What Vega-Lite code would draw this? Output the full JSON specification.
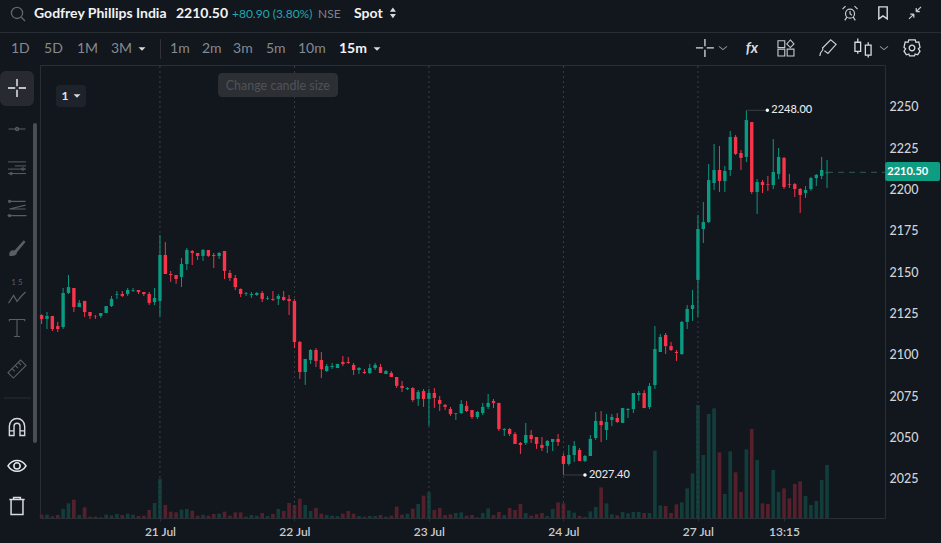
{"$schema":"https://vega.github.io/schema/vega-lite/v6.json","autosize":"none","width":845,"height":453,"padding":{"left":40,"top":65,"right":56,"bottom":25},"background":"#12161d","config":{"view":{"stroke":"#2a2e35"},"font":"Lato"},
"datasets":{"candles":[
{"i":0,"o":2124.2,"h":2124.6,"l":2118.7,"c":2121.8,"v":10,"s":"d"},
{"i":1,"o":2121.8,"h":2126.0,"l":2115.7,"c":2123.6,"v":10,"s":"u"},
{"i":2,"o":2123.6,"h":2123.6,"l":2114.5,"c":2115.7,"v":5,"s":"d"},
{"i":3,"o":2117.5,"h":2120.0,"l":2113.9,"c":2115.7,"v":9,"s":"d"},
{"i":4,"o":2116.9,"h":2140.5,"l":2115.7,"c":2137.5,"v":27,"s":"u"},
{"i":5,"o":2137.5,"h":2148.4,"l":2136.9,"c":2141.1,"v":44,"s":"u"},
{"i":6,"o":2140.5,"h":2140.5,"l":2126.0,"c":2129.0,"v":55,"s":"d"},
{"i":7,"o":2129.0,"h":2133.3,"l":2129.0,"c":2131.5,"v":9,"s":"u"},
{"i":8,"o":2132.7,"h":2132.7,"l":2123.0,"c":2126.0,"v":32,"s":"d"},
{"i":9,"o":2126.0,"h":2126.0,"l":2121.8,"c":2123.6,"v":4,"s":"d"},
{"i":10,"o":2123.2,"h":2124.2,"l":2121.8,"c":2123.0,"v":4,"s":"d"},
{"i":11,"o":2123.6,"h":2125.4,"l":2122.4,"c":2125.4,"v":2,"s":"u"},
{"i":12,"o":2125.4,"h":2129.6,"l":2125.4,"c":2129.6,"v":10,"s":"u"},
{"i":13,"o":2129.6,"h":2135.7,"l":2129.0,"c":2133.9,"v":8,"s":"u"},
{"i":14,"o":2136.5,"h":2138.7,"l":2133.9,"c":2136.9,"v":12,"s":"u"},
{"i":15,"o":2136.9,"h":2138.7,"l":2135.1,"c":2135.7,"v":9,"s":"d"},
{"i":16,"o":2136.9,"h":2140.5,"l":2135.7,"c":2139.3,"v":13,"s":"u"},
{"i":17,"o":2138.9,"h":2140.5,"l":2138.1,"c":2139.3,"v":10,"s":"u"},
{"i":18,"o":2139.3,"h":2139.3,"l":2136.9,"c":2138.1,"v":6,"s":"d"},
{"i":19,"o":2138.1,"h":2138.1,"l":2135.7,"c":2136.9,"v":7,"s":"d"},
{"i":20,"o":2136.9,"h":2138.1,"l":2130.2,"c":2131.5,"v":24,"s":"d"},
{"i":21,"o":2132.0,"h":2140.5,"l":2130.2,"c":2134.5,"v":45,"s":"u"},
{"i":22,"o":2132.7,"h":2172.6,"l":2123.2,"c":2160.5,"v":118,"s":"u"},
{"i":23,"o":2160.5,"h":2168.3,"l":2149.0,"c":2149.0,"v":39,"s":"d"},
{"i":24,"o":2149.0,"h":2150.8,"l":2144.2,"c":2148.4,"v":19,"s":"d"},
{"i":25,"o":2148.4,"h":2148.4,"l":2143.0,"c":2146.0,"v":17,"s":"d"},
{"i":26,"o":2147.2,"h":2158.7,"l":2141.1,"c":2155.0,"v":25,"s":"u"},
{"i":27,"o":2155.0,"h":2164.7,"l":2151.4,"c":2163.5,"v":27,"s":"u"},
{"i":28,"o":2162.9,"h":2163.5,"l":2154.4,"c":2161.7,"v":22,"s":"d"},
{"i":29,"o":2161.7,"h":2161.7,"l":2157.5,"c":2159.9,"v":7,"s":"d"},
{"i":30,"o":2159.9,"h":2164.1,"l":2156.9,"c":2163.5,"v":10,"s":"u"},
{"i":31,"o":2163.5,"h":2163.5,"l":2159.3,"c":2159.9,"v":7,"s":"d"},
{"i":32,"o":2160.5,"h":2161.7,"l":2152.6,"c":2159.9,"v":12,"s":"d"},
{"i":33,"o":2159.9,"h":2162.3,"l":2158.1,"c":2161.7,"v":13,"s":"u"},
{"i":34,"o":2162.9,"h":2162.9,"l":2146.0,"c":2150.8,"v":19,"s":"d"},
{"i":35,"o":2149.6,"h":2151.4,"l":2144.8,"c":2146.6,"v":7,"s":"d"},
{"i":36,"o":2146.6,"h":2148.4,"l":2139.3,"c":2141.1,"v":17,"s":"d"},
{"i":37,"o":2139.9,"h":2140.3,"l":2135.1,"c":2136.9,"v":17,"s":"d"},
{"i":38,"o":2136.9,"h":2138.1,"l":2135.7,"c":2137.3,"v":4,"s":"u"},
{"i":39,"o":2136.3,"h":2138.1,"l":2134.5,"c":2136.9,"v":9,"s":"u"},
{"i":40,"o":2136.3,"h":2138.1,"l":2135.7,"c":2137.5,"v":7,"s":"u"},
{"i":41,"o":2137.5,"h":2138.7,"l":2132.0,"c":2133.9,"v":15,"s":"d"},
{"i":42,"o":2134.1,"h":2135.7,"l":2133.3,"c":2134.5,"v":6,"s":"u"},
{"i":43,"o":2133.9,"h":2138.7,"l":2132.7,"c":2133.3,"v":12,"s":"d"},
{"i":44,"o":2133.9,"h":2136.9,"l":2130.2,"c":2135.7,"v":27,"s":"u"},
{"i":45,"o":2135.1,"h":2138.7,"l":2132.7,"c":2133.3,"v":21,"s":"d"},
{"i":46,"o":2133.9,"h":2136.3,"l":2124.2,"c":2132.7,"v":45,"s":"d"},
{"i":47,"o":2132.7,"h":2133.9,"l":2104.2,"c":2107.9,"v":39,"s":"d"},
{"i":48,"o":2107.9,"h":2108.4,"l":2085.5,"c":2089.7,"v":58,"s":"d"},
{"i":49,"o":2089.7,"h":2097.6,"l":2081.9,"c":2097.6,"v":39,"s":"u"},
{"i":50,"o":2097.0,"h":2103.6,"l":2094.6,"c":2103.0,"v":21,"s":"u"},
{"i":51,"o":2103.0,"h":2104.2,"l":2092.7,"c":2096.4,"v":30,"s":"d"},
{"i":52,"o":2097.0,"h":2101.8,"l":2086.1,"c":2091.5,"v":13,"s":"d"},
{"i":53,"o":2090.3,"h":2094.6,"l":2089.7,"c":2093.3,"v":9,"s":"u"},
{"i":54,"o":2092.7,"h":2095.2,"l":2091.5,"c":2093.3,"v":7,"s":"u"},
{"i":55,"o":2092.1,"h":2094.6,"l":2092.1,"c":2094.6,"v":6,"s":"u"},
{"i":56,"o":2095.8,"h":2099.4,"l":2093.3,"c":2094.6,"v":13,"s":"d"},
{"i":57,"o":2095.8,"h":2098.8,"l":2094.6,"c":2095.2,"v":21,"s":"d"},
{"i":58,"o":2094.0,"h":2095.2,"l":2087.9,"c":2090.9,"v":13,"s":"d"},
{"i":59,"o":2090.9,"h":2092.7,"l":2088.5,"c":2092.1,"v":6,"s":"u"},
{"i":60,"o":2089.7,"h":2091.5,"l":2088.5,"c":2089.1,"v":4,"s":"d"},
{"i":61,"o":2089.1,"h":2094.6,"l":2088.5,"c":2092.1,"v":6,"s":"u"},
{"i":62,"o":2092.1,"h":2095.2,"l":2090.9,"c":2094.0,"v":6,"s":"u"},
{"i":63,"o":2092.7,"h":2094.6,"l":2089.1,"c":2089.1,"v":9,"s":"d"},
{"i":64,"o":2088.5,"h":2090.9,"l":2088.5,"c":2090.3,"v":4,"s":"u"},
{"i":65,"o":2089.1,"h":2090.3,"l":2086.7,"c":2086.7,"v":7,"s":"d"},
{"i":66,"o":2086.7,"h":2086.7,"l":2080.0,"c":2081.3,"v":34,"s":"d"},
{"i":67,"o":2081.3,"h":2084.3,"l":2077.6,"c":2080.0,"v":10,"s":"d"},
{"i":68,"o":2079.4,"h":2080.6,"l":2078.8,"c":2080.0,"v":13,"s":"u"},
{"i":69,"o":2080.0,"h":2080.6,"l":2071.6,"c":2072.8,"v":28,"s":"d"},
{"i":70,"o":2073.4,"h":2078.8,"l":2069.2,"c":2077.6,"v":42,"s":"u"},
{"i":71,"o":2078.2,"h":2079.4,"l":2068.6,"c":2073.4,"v":67,"s":"d"},
{"i":72,"o":2073.4,"h":2079.4,"l":2057.1,"c":2077.0,"v":77,"s":"u"},
{"i":73,"o":2077.0,"h":2080.0,"l":2068.0,"c":2074.0,"v":24,"s":"d"},
{"i":74,"o":2072.8,"h":2075.2,"l":2066.1,"c":2070.4,"v":30,"s":"d"},
{"i":75,"o":2069.8,"h":2070.4,"l":2066.7,"c":2068.6,"v":9,"s":"d"},
{"i":76,"o":2067.3,"h":2068.6,"l":2063.1,"c":2064.3,"v":11,"s":"d"},
{"i":77,"o":2064.5,"h":2064.9,"l":2060.7,"c":2064.9,"v":15,"s":"u"},
{"i":78,"o":2064.9,"h":2072.8,"l":2064.3,"c":2070.4,"v":17,"s":"u"},
{"i":79,"o":2069.2,"h":2072.2,"l":2065.5,"c":2066.1,"v":7,"s":"d"},
{"i":80,"o":2066.7,"h":2066.7,"l":2061.3,"c":2062.5,"v":9,"s":"d"},
{"i":81,"o":2062.5,"h":2066.1,"l":2061.3,"c":2065.5,"v":2,"s":"u"},
{"i":82,"o":2064.9,"h":2071.0,"l":2063.7,"c":2068.6,"v":15,"s":"u"},
{"i":83,"o":2068.6,"h":2076.4,"l":2067.3,"c":2071.0,"v":29,"s":"u"},
{"i":84,"o":2072.2,"h":2073.4,"l":2067.9,"c":2071.0,"v":9,"s":"d"},
{"i":85,"o":2071.0,"h":2071.0,"l":2054.0,"c":2055.2,"v":18,"s":"d"},
{"i":86,"o":2054.6,"h":2055.8,"l":2051.0,"c":2055.2,"v":9,"s":"u"},
{"i":87,"o":2055.2,"h":2055.8,"l":2051.0,"c":2052.2,"v":30,"s":"d"},
{"i":88,"o":2052.2,"h":2053.4,"l":2046.2,"c":2046.2,"v":24,"s":"d"},
{"i":89,"o":2046.8,"h":2047.4,"l":2040.1,"c":2045.6,"v":42,"s":"d"},
{"i":90,"o":2046.8,"h":2058.9,"l":2045.6,"c":2051.6,"v":15,"s":"u"},
{"i":91,"o":2051.6,"h":2054.6,"l":2046.8,"c":2049.2,"v":7,"s":"d"},
{"i":92,"o":2050.4,"h":2050.4,"l":2043.2,"c":2046.2,"v":11,"s":"d"},
{"i":93,"o":2045.6,"h":2050.4,"l":2041.9,"c":2043.8,"v":15,"s":"d"},
{"i":94,"o":2045.0,"h":2048.6,"l":2040.7,"c":2048.0,"v":6,"s":"u"},
{"i":95,"o":2047.4,"h":2049.2,"l":2041.9,"c":2049.2,"v":27,"s":"u"},
{"i":96,"o":2049.2,"h":2052.2,"l":2045.0,"c":2047.4,"v":47,"s":"d"},
{"i":97,"o":2038.9,"h":2040.5,"l":2027.4,"c":2034.1,"v":44,"s":"d"},
{"i":98,"o":2034.1,"h":2045.6,"l":2033.1,"c":2039.5,"v":23,"s":"u"},
{"i":99,"o":2039.5,"h":2048.0,"l":2035.3,"c":2045.0,"v":16,"s":"u"},
{"i":100,"o":2042.5,"h":2043.7,"l":2035.9,"c":2035.9,"v":6,"s":"d"},
{"i":101,"o":2035.9,"h":2039.5,"l":2035.3,"c":2038.9,"v":3,"s":"u"},
{"i":102,"o":2038.9,"h":2051.6,"l":2038.9,"c":2049.2,"v":20,"s":"u"},
{"i":103,"o":2049.8,"h":2065.5,"l":2048.6,"c":2060.1,"v":33,"s":"u"},
{"i":104,"o":2060.1,"h":2066.1,"l":2047.4,"c":2057.6,"v":92,"s":"d"},
{"i":105,"o":2054.6,"h":2064.3,"l":2048.6,"c":2059.5,"v":44,"s":"u"},
{"i":106,"o":2060.7,"h":2064.3,"l":2057.0,"c":2062.5,"v":11,"s":"u"},
{"i":107,"o":2061.9,"h":2064.9,"l":2058.9,"c":2059.5,"v":8,"s":"d"},
{"i":108,"o":2058.9,"h":2067.9,"l":2058.9,"c":2067.9,"v":18,"s":"u"},
{"i":109,"o":2066.7,"h":2067.9,"l":2061.9,"c":2067.3,"v":14,"s":"u"},
{"i":110,"o":2067.3,"h":2077.0,"l":2064.9,"c":2077.0,"v":18,"s":"u"},
{"i":111,"o":2075.8,"h":2078.2,"l":2072.2,"c":2077.0,"v":18,"s":"u"},
{"i":112,"o":2077.0,"h":2078.8,"l":2067.9,"c":2067.9,"v":15,"s":"d"},
{"i":113,"o":2068.5,"h":2083.0,"l":2067.3,"c":2081.2,"v":15,"s":"u"},
{"i":114,"o":2081.8,"h":2117.5,"l":2079.4,"c":2103.6,"v":202,"s":"u"},
{"i":115,"o":2101.8,"h":2112.7,"l":2101.8,"c":2110.9,"v":38,"s":"u"},
{"i":116,"o":2112.1,"h":2113.3,"l":2100.6,"c":2105.4,"v":36,"s":"d"},
{"i":117,"o":2105.4,"h":2107.9,"l":2102.4,"c":2103.0,"v":15,"s":"d"},
{"i":118,"o":2101.8,"h":2103.0,"l":2096.4,"c":2101.2,"v":41,"s":"d"},
{"i":119,"o":2100.6,"h":2120.6,"l":2100.0,"c":2120.0,"v":47,"s":"u"},
{"i":120,"o":2120.0,"h":2130.2,"l":2115.7,"c":2127.8,"v":89,"s":"u"},
{"i":121,"o":2127.8,"h":2139.3,"l":2120.6,"c":2130.2,"v":134,"s":"u"},
{"i":122,"o":2145.4,"h":2184.7,"l":2123.0,"c":2176.2,"v":339,"s":"u"},
{"i":123,"o":2176.2,"h":2192.5,"l":2167.7,"c":2180.4,"v":189,"s":"u"},
{"i":124,"o":2180.4,"h":2215.5,"l":2179.8,"c":2205.8,"v":312,"s":"u"},
{"i":125,"o":2204.0,"h":2227.6,"l":2199.8,"c":2211.9,"v":329,"s":"u"},
{"i":126,"o":2211.9,"h":2226.4,"l":2198.6,"c":2205.2,"v":197,"s":"d"},
{"i":127,"o":2205.2,"h":2214.3,"l":2198.6,"c":2211.3,"v":72,"s":"u"},
{"i":128,"o":2211.9,"h":2235.5,"l":2208.3,"c":2231.9,"v":200,"s":"u"},
{"i":129,"o":2231.9,"h":2233.1,"l":2221.0,"c":2221.6,"v":137,"s":"d"},
{"i":130,"o":2222.2,"h":2224.0,"l":2211.9,"c":2219.2,"v":78,"s":"d"},
{"i":131,"o":2219.8,"h":2248.0,"l":2216.7,"c":2242.1,"v":206,"s":"u"},
{"i":132,"o":2240.9,"h":2240.9,"l":2197.4,"c":2198.6,"v":267,"s":"d"},
{"i":133,"o":2198.6,"h":2206.4,"l":2185.3,"c":2204.6,"v":174,"s":"u"},
{"i":134,"o":2204.6,"h":2205.8,"l":2198.0,"c":2202.8,"v":44,"s":"d"},
{"i":135,"o":2203.4,"h":2208.3,"l":2199.2,"c":2203.0,"v":42,"s":"d"},
{"i":136,"o":2202.8,"h":2230.6,"l":2200.4,"c":2210.7,"v":144,"s":"u"},
{"i":137,"o":2209.5,"h":2225.2,"l":2206.4,"c":2219.8,"v":78,"s":"u"},
{"i":138,"o":2219.2,"h":2219.8,"l":2200.4,"c":2201.6,"v":89,"s":"d"},
{"i":139,"o":2203.4,"h":2209.5,"l":2201.0,"c":2203.0,"v":59,"s":"d"},
{"i":140,"o":2203.4,"h":2204.0,"l":2195.6,"c":2200.4,"v":102,"s":"d"},
{"i":141,"o":2200.4,"h":2201.0,"l":2185.9,"c":2196.8,"v":110,"s":"d"},
{"i":142,"o":2198.0,"h":2202.2,"l":2195.0,"c":2199.8,"v":66,"s":"u"},
{"i":143,"o":2200.4,"h":2207.7,"l":2199.2,"c":2207.0,"v":39,"s":"u"},
{"i":144,"o":2207.0,"h":2209.5,"l":2202.2,"c":2208.9,"v":51,"s":"u"},
{"i":145,"o":2208.3,"h":2219.8,"l":2206.4,"c":2211.9,"v":114,"s":"u"},
{"i":146,"o":2209.9,"h":2218.0,"l":2201.0,"c":2210.5,"v":159,"s":"u"}
]},
"data":{"name":"candles"},
"encoding":{"x":{"field":"i","type":"quantitative","title":null,"scale":{"domain":[-0.297,156.77],"nice":false,"zero":false,"padding":0},"axis":{"values":[22,47,72,97,122,138],"labelExpr":"{22:'21 Jul',47:'22 Jul',72:'23 Jul',97:'24 Jul',122:'27 Jul',138:'13:15'}[datum.value]","grid":false,"domain":false,"tickColor":"#2a2e35","tickSize":3,"labelColor":"#c8cbd0","labelFont":"Lato","labelFontSize":12,"labelFontWeight":600,"labelPadding":5,"title":null}}},
"resolve":{"scale":{"y":"independent","color":"independent"}},
"layer":[
{"mark":{"type":"bar","size":3.7},"encoding":{"y":{"field":"v","type":"quantitative","title":null,"axis":null,"scale":{"domain":[0,1359],"nice":false,"padding":0}},"color":{"field":"s","type":"nominal","legend":null,"scale":{"domain":["u","d"],"range":["#123d3b","#54202c"]}}}},
{"encoding":{"y":{"field":"l","type":"quantitative","title":null,"scale":{"domain":[2001.4,2275.4],"nice":false,"zero":false,"padding":0},"axis":{"orient":"right","values":[2025,2050,2075,2100,2125,2150,2175,2200,2225,2250],"grid":false,"ticks":false,"domain":false,"labelColor":"#d1d4d9","labelFont":"Lato","labelFontSize":12.5,"labelFontWeight":500,"labelPadding":4,"format":"d","title":null}}},
"layer":[
{"data":{"values":[{"i":22,"p0":2001.4,"p1":2275.4},{"i":47,"p0":2001.4,"p1":2275.4},{"i":72,"p0":2001.4,"p1":2275.4},{"i":97,"p0":2001.4,"p1":2275.4},{"i":122,"p0":2001.4,"p1":2275.4}]},"mark":{"type":"rule","color":"#3c4046","strokeDash":[2,3],"strokeWidth":1},"encoding":{"y":{"field":"p0","type":"quantitative"},"y2":{"field":"p1"}}},
{"mark":{"type":"rule","strokeWidth":1},"encoding":{"y2":{"field":"h"},"color":{"field":"s","type":"nominal","legend":null,"scale":{"domain":["u","d"],"range":["#0a9981","#f7344a"]}}}},
{"mark":{"type":"bar","size":3.4},"encoding":{"y":{"field":"o","type":"quantitative"},"y2":{"field":"c"},"color":{"field":"s","type":"nominal","legend":null,"scale":{"domain":["u","d"],"range":["#0a9981","#f7344a"]}}}},
{"data":{"values":[{"i":131,"i2":134.9,"p":2248.0,"t":"2248.00"},{"i":97,"i2":101,"p":2027.4,"t":"2027.40"}]},"layer":[
{"mark":{"type":"rule","color":"#3b3f45","strokeWidth":1},"encoding":{"x2":{"field":"i2"},"y":{"field":"p","type":"quantitative"}}},
{"mark":{"type":"point","filled":true,"color":"#ffffff","size":12,"opacity":1},"encoding":{"x":{"field":"i2","type":"quantitative"},"y":{"field":"p","type":"quantitative"}}},
{"mark":{"type":"text","color":"#e6e8ea","align":"left","dx":4,"fontSize":11,"font":"Lato","fontWeight":500},"encoding":{"x":{"field":"i2","type":"quantitative"},"y":{"field":"p","type":"quantitative"},"text":{"field":"t"}}}
]},
{"encoding":{"x":{"field":"a","type":"quantitative","title":null},"y":{"field":"b","type":"quantitative","title":null}},"layer":[
{"data":{"values":[{"a":146,"a2":156.8,"b":2210.5}]},"mark":{"type":"rule","color":"#2f5a54","strokeDash":[6,5]},"encoding":{"x2":{"field":"a2"}}},
{"data":{"values":[{"a":156.8,"a2":167,"b":2216.7,"b2":2205.2}]},"mark":{"type":"rect","color":"#0e9c82","cornerRadius":2},"encoding":{"x2":{"field":"a2"},"y2":{"field":"b2"}}},
{"data":{"values":[{"t":"2210.50","a":157.2,"b":2210.5}]},"mark":{"type":"text","color":"#ffffff","align":"left","fontWeight":700,"fontSize":11,"font":"Lato"},"encoding":{"text":{"field":"t"}}},
{"data":{"values":[{"a":32.8,"a2":55.1,"b":2270.6,"b2":2256.05}]},"mark":{"type":"rect","color":"#2c2f34","cornerRadius":4},"encoding":{"x2":{"field":"a2"},"y2":{"field":"b2"}}},
{"data":{"values":[{"t":"Change candle size","a":43.9,"b":2262.7}]},"mark":{"type":"text","color":"#4f5358","fontSize":12.5,"font":"Lato"},"encoding":{"text":{"field":"t"}}},
{"data":{"values":[{"a":2.68,"a2":8.25,"b":2263.3,"b2":2250}]},"mark":{"type":"rect","color":"#1e222a","cornerRadius":3},"encoding":{"x2":{"field":"a2"},"y2":{"field":"b2"}}},
{"data":{"values":[{"t":"1","a":4.35,"b":2256.65}]},"mark":{"type":"text","color":"#e4e6e8","fontWeight":700,"fontSize":12,"font":"Lato"},"encoding":{"text":{"field":"t"}}},
{"data":{"values":[{"a":-7.73,"a2":167.2,"b":2295.06}]},"mark":{"type":"rule","color":"#2a2e35"},"encoding":{"x2":{"field":"a2"}}},
{"data":{"values":[{"t":"Godfrey Phillips India","a":-1.41,"b":2306.25},{"t":"2210.50","a":24.98,"b":2306.25},{"t":"Spot","a":58.07,"b":2306.25},{"t":"15m","a":55.28,"b":2285.08}]},"mark":{"type":"text","color":"#f2f3f4","align":"left","fontWeight":700,"fontSize":14,"font":"Lato"},"encoding":{"text":{"field":"t"}}},
{"data":{"values":[{"t":"+80.90 (3.80%)","a":35.39,"b":2306.25}]},"mark":{"type":"text","color":"#1fa9b0","align":"left","fontSize":12,"font":"Lato"},"encoding":{"text":{"field":"t"}}},
{"data":{"values":[{"t":"NSE","a":51.4,"b":2306.25}]},"mark":{"type":"text","color":"#7e8389","align":"left","fontSize":12,"font":"Lato"},"encoding":{"text":{"field":"t"}}},
{"data":{"values":[{"t":"1D","a":-5.69,"b":2285.08},{"t":"5D","a":0.45,"b":2285.08},{"t":"1M","a":6.58,"b":2285.08},{"t":"3M","a":12.9,"b":2285.08},{"t":"1m","a":23.87,"b":2285.08},{"t":"2m","a":29.81,"b":2285.08},{"t":"3m","a":35.58,"b":2285.08},{"t":"5m","a":41.71,"b":2285.08},{"t":"10m","a":47.66,"b":2285.08}]},"mark":{"type":"text","color":"#858a91","align":"left","fontSize":14,"font":"Lato"},"encoding":{"text":{"field":"t"}}},
{"data":{"values":[{"a":6.58,"b":2256.65},{"a":18.66,"b":2285.08},{"a":62.34,"b":2285.08}]},"mark":{"type":"point","shape":"M-1 -.5H1L0 .5Z","filled":true,"opacity":1,"color":"#d8dadd","size":49}},
{"data":{"values":[{"a":22.1,"b":2291,"b2":2279}]},"mark":{"type":"rule","color":"#2f333a"},"encoding":{"y2":{"field":"b2"}}},
{"data":{"values":[{"a":65.3,"b":2306.9}]},"mark":{"type":"point","shape":"M-.5 -.2L0 -.9L.5 -.2ZM-.5 .2L0 .9L.5 .2Z","filled":true,"opacity":1,"color":"#d8dadd","size":144}},
{"data":{"values":[{"a":-4.57,"b":2306.9}]},"mark":{"type":"point","shape":"M.45 .45L1 1M.7 0A.7 .7 0 1 1 -.7 0A.7 .7 0 1 1 .7 0","opacity":1,"color":"#62666c","size":256,"strokeWidth":1.3}},
{"data":{"values":[{"a":150.27,"b":2306.9}]},"mark":{"type":"point","shape":"M.6 .1A.6 .6 0 1 1 -.6 .1A.6 .6 0 1 1 .6 .1M0 -.25V.1L.25 .3M-.6 -.9L-1 -.5M.6 -.9L1 -.5M-.45 .6L-.7 1M.45 .6L.7 1","opacity":1,"color":"#c8cbd0","size":225,"strokeWidth":1.2}},
{"data":{"values":[{"a":156.4,"b":2306.9}]},"mark":{"type":"point","shape":"M-.7 -1H.7V1L0 .5L-.7 1Z","opacity":1,"color":"#d8dadd","size":144,"strokeWidth":1.4}},
{"data":{"values":[{"a":162.35,"b":2306.9}]},"mark":{"type":"point","shape":"M.2 -.2L1 -1M.2 -.2H.8M.2 -.2V-.8M-.2 .2L-1 1M-.2 .2H-.8M-.2 .2V.8","opacity":1,"color":"#c8cbd0","size":144,"strokeWidth":1.2}},
{"data":{"values":[{"a":123.3,"b":2285.7}]},"mark":{"type":"point","shape":"M-1 0H-.2M.2 0H1M0 -1V-.2M0 .2V1","opacity":1,"color":"#d8dadd","size":324,"strokeWidth":1.3}},
{"data":{"values":[{"a":126.65,"b":2285.7},{"a":156.58,"b":2285.7}]},"mark":{"type":"point","shape":"M-1 -.4L0 .4L1 -.4","opacity":1,"color":"#8a8e94","size":64,"strokeWidth":1.1}},
{"data":{"values":[{"t":"fx","a":132.04,"b":2285.7}]},"mark":{"type":"text","fontStyle":"italic","fontWeight":700,"color":"#d8dadd","fontSize":15,"font":"Lato"},"encoding":{"text":{"field":"t"}}},
{"data":{"values":[{"a":138.36,"b":2285.7}]},"mark":{"type":"point","shape":"M-1 -.9H-.15V-.05H-1ZM-1 .15H-.15V1H-1ZM.15 .15H1V1H.15ZM.55 -1L1 -.5L.55 -.05L.1 -.5Z","opacity":1,"color":"#c8cbd0","size":256,"strokeWidth":1.1}},
{"data":{"values":[{"a":146.17,"b":2285.7}]},"mark":{"type":"point","shape":"M-.9 .9C-.9 .2 -.4 .4 -.6 0L.3 -.9L.9 -.4L0 .6L-.4 .3","opacity":1,"color":"#c8cbd0","size":324,"strokeWidth":1.2}},
{"data":{"values":[{"a":152.68,"b":2285.7}]},"mark":{"type":"point","shape":"M-.55 -1V-.6M-.55 .35V.6M-.85 -.6H-.25V.35H-.85ZM.55 -.6V-.3M.55 .75V1M.25 -.3H.85V.75H.25Z","opacity":1,"color":"#d8dadd","size":361,"strokeWidth":1.3}},
{"data":{"values":[{"a":161.79,"b":2285.7}]},"mark":{"type":"point","shape":"M-.4 -1H.4L.5 -.7L.85 -.75L1 -.1L.8 .1L1 .4L.7 .85L.4 .75L.3 1H-.3L-.4 .75L-.7 .85L-1 .4L-.8 .1L-1 -.1L-.85 -.75L-.5 -.7ZM.35 0A.35 .35 0 1 1 -.35 0A.35 .35 0 1 1 .35 0","opacity":1,"color":"#d8dadd","size":256,"strokeWidth":1.3}},
{"data":{"values":[{"a":-7.73,"a2":-1.41,"b":2271.8,"b2":2250.6}]},"mark":{"type":"rect","color":"#272b31","cornerRadius":6},"encoding":{"x2":{"field":"a2"},"y2":{"field":"b2"}}},
{"data":{"values":[{"a":-4.57,"b":2261.5}]},"mark":{"type":"point","shape":"M-1 0H-.2M.2 0H1M0 -1V-.2M0 .2V1","opacity":1,"color":"#f2f3f4","size":324,"strokeWidth":1.4}},
{"data":{"values":[{"a":-1.6,"a2":-0.86,"b":2240.3,"b2":2046.8}]},"mark":{"type":"rect","color":"#4a4d52","cornerRadius":2},"encoding":{"x2":{"field":"a2"},"y2":{"field":"b2"}}},
{"data":{"values":[{"a":-7.0,"a2":-2.0,"b":2074}]},"mark":{"type":"rule","color":"#2a2e35"},"encoding":{"x2":{"field":"a2"}}},
{"data":{"values":[{"a":-4.57,"b":2236.7}]},"mark":{"type":"point","shape":"M-1 0H1M-.2 0A.2 .2 0 1 0 .2 0A.2 .2 0 1 0 -.2 0","opacity":1,"color":"#5a5e64","size":289,"strokeWidth":1.1}},
{"data":{"values":[{"a":-4.57,"b":2211.9}]},"mark":{"type":"point","shape":"M-1 -.9H1M-1 -.1H1M-1 .4H1M-.25 -.45H1M.5 -.1A.15 .15 0 1 0 .8 -.1A.15 .15 0 1 0 .5 -.1M-.8 .4A.15 .15 0 1 0 -.5 .4A.15 .15 0 1 0 -.8 .4","opacity":1,"color":"#5a5e64","size":324,"strokeWidth":1}},
{"data":{"values":[{"a":-4.57,"b":2188.9}]},"mark":{"type":"point","shape":"M-1 .8H1M-.8 .1L.9 -.3M-.8 .1H.9M-.8 -.7L.9 -.7M-.9 -.7A.12 .12 0 1 0 -.66 -.7A.12 .12 0 1 0 -.9 -.7M-.9 .8A.12 .12 0 1 0 -.66 .8A.12 .12 0 1 0 -.9 .8","opacity":1,"color":"#5a5e64","size":361,"strokeWidth":1.1}},
{"data":{"values":[{"a":-4.57,"b":2164.7}]},"mark":{"type":"point","shape":"M-.9 .9C-1 .4 -.6 .2 -.3 .3L.8 -.9L1 -.7L0 .5C0 .9 -.5 1 -.9 .9Z","filled":true,"opacity":1,"color":"#5a5e64","size":289}},
{"data":{"values":[{"t":"1   5","a":-4.57,"b":2143.5}]},"mark":{"type":"text","color":"#5a5e64","fontSize":8,"font":"Lato"},"encoding":{"text":{"field":"t"}}},
{"data":{"values":[{"a":-4.57,"b":2135}]},"mark":{"type":"point","shape":"M-1 .7L-.4 -.2L0 .5L.5 -.1L1 -.6","opacity":1,"color":"#5a5e64","size":289,"strokeWidth":1.2}},
{"data":{"values":[{"a":-4.57,"b":2116.3}]},"mark":{"type":"point","shape":"M-.9 -.8V-1H.9V-.8M0 -1V1M-.35 1H.35","opacity":1,"color":"#5a5e64","size":289,"strokeWidth":1.1}},
{"data":{"values":[{"a":-4.57,"b":2091.5}]},"mark":{"type":"point","shape":"M-1 .4L.4 -1L1 -.4L-.4 1ZM-.55 -.05L-.25 .25M-.2 -.4L.1 -.1M.15 -.75L.45 -.45","opacity":1,"color":"#5a5e64","size":324,"strokeWidth":1.1}},
{"data":{"values":[{"a":-4.57,"b":2056.4}]},"mark":{"type":"point","shape":"M-.9 1V-.1A.9 .9 0 0 1 .9 -.1V1H.35V-.1A.35 .35 0 0 0 -.35 -.1V1ZM-.9 .45H-.35M.35 .45H.9","opacity":1,"color":"#d8dadd","size":289,"strokeWidth":1.4}},
{"data":{"values":[{"a":-4.57,"b":2032.9}]},"mark":{"type":"point","shape":"M-1 0C-.5 -.8 .5 -.8 1 0C.5 .8 -.5 .8 -1 0ZM.35 0A.35 .35 0 1 1 -.35 0A.35 .35 0 1 1 .35 0","opacity":1,"color":"#e4e6e8","size":324,"strokeWidth":1.6}},
{"data":{"values":[{"a":-4.57,"b":2008.7}]},"mark":{"type":"point","shape":"M-.9 -.75H.9M-.4 -.75V-1H.4V-.75M-.7 -.75V1H.7V-.75","opacity":1,"color":"#d8dadd","size":289,"strokeWidth":1.5}}
]}
]}
]}
